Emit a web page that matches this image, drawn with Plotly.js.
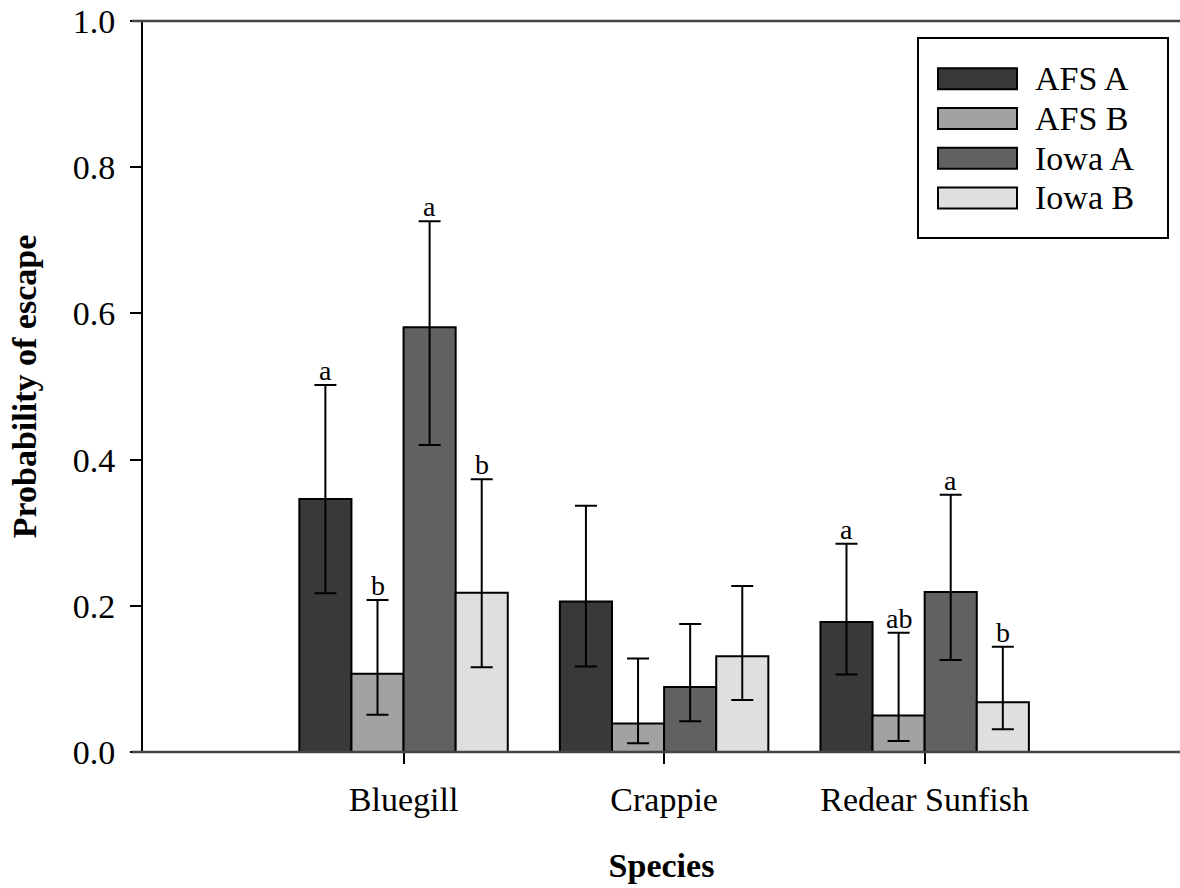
<!DOCTYPE html>
<html>
<head>
<meta charset="utf-8">
<script src="https://cdn.plot.ly/plotly-3.0.1.min.js"></script>
<style>
  html, body { margin: 0; padding: 0; background: #fff; }
  #chart { width: 1180px; height: 888px; }
</style>
</head>
<body>
<div id="chart"></div>
<script>
// Species on the x axis
const species = ['Bluegill', 'Crappie', 'Redear Sunfish'];

// Series (gear / region)
const seriesNames = ['AFS A', 'AFS B', 'Iowa A', 'Iowa B'];
const seriesColors = ['#393939', '#a2a2a2', '#616161', '#dfdfdf'];

// Estimated probability of escape and its confidence limits, per species
const afsA      = [0.346, 0.206, 0.178];
const afsAUpper = [0.502, 0.337, 0.285];
const afsALower = [0.217, 0.117, 0.106];

const afsB      = [0.107, 0.039, 0.050];
const afsBUpper = [0.208, 0.128, 0.163];
const afsBLower = [0.051, 0.012, 0.015];

const iowaA      = [0.581, 0.089, 0.219];
const iowaAUpper = [0.726, 0.175, 0.352];
const iowaALower = [0.420, 0.042, 0.126];

const iowaB      = [0.218, 0.131, 0.068];
const iowaBUpper = [0.373, 0.227, 0.144];
const iowaBLower = [0.116, 0.071, 0.031];

// Significance letters shown above the upper limits
const afsALetters  = ['a', '', 'a'];
const afsBLetters  = ['b', '', 'ab'];
const iowaALetters = ['a', '', 'a'];
const iowaBLetters = ['b', '', 'b'];

const yTickValues = [0, 0.2, 0.4, 0.6, 0.8, 1.0];

const values  = [afsA, afsB, iowaA, iowaB];
const uppers  = [afsAUpper, afsBUpper, iowaAUpper, iowaBUpper];
const lowers  = [afsALower, afsBLower, iowaALower, iowaBLower];
const letters = [afsALetters, afsBLetters, iowaALetters, iowaBLetters];

// Page geometry
const W = 1180, H = 888;
const M = { l: 143, r: 0, t: 21, b: 136 };
const pw = W - M.l - M.r, ph = H - M.t - M.b;
const fx = x => (x - M.l) / pw;        // pixel column -> paper fraction
const fy = y => (H - M.b - y) / ph;    // pixel row -> paper fraction

const serif = 'Liberation Serif, Times New Roman, serif';
const bargap = 0.2;
const nSeries = seriesNames.length;
const slot = (1 - bargap) / nSeries;

const traces = seriesNames.map((name, i) => ({
  type: 'bar',
  name: name,
  x: species,
  y: values[i],
  marker: { color: seriesColors[i], line: { color: '#000', width: 2 } },
  error_y: {
    type: 'data',
    symmetric: false,
    array: uppers[i].map((u, k) => u - values[i][k]),
    arrayminus: lowers[i].map((l, k) => values[i][k] - l),
    color: '#000',
    thickness: 2,
    width: 11
  },
  showlegend: false,
  hoverinfo: 'x+y+name'
}));

const annotations = [];
// letters over each bar's upper limit
letters.forEach((row, i) => {
  row.forEach((txt, k) => {
    if (!txt) return;
    annotations.push({
      xref: 'x', yref: 'y',
      x: k + (i - (nSeries - 1) / 2) * slot,
      y: uppers[i][k],
      text: txt,
      showarrow: false,
      xanchor: 'center', yanchor: 'bottom',
      yshift: -3,
      font: { family: serif, size: 28, color: '#000' }
    });
  });
});

const shapes = [
  // frame lines along the bottom and top
  { type: 'line', xref: 'paper', yref: 'paper', x0: fx(132), x1: 1.01, y0: 0, y1: 0,
    line: { color: '#454545', width: 2.5 } },
  { type: 'line', xref: 'paper', yref: 'paper', x0: fx(132), x1: 1.01, y0: 1, y1: 1,
    line: { color: '#454545', width: 2.5 } },
  // legend box
  { type: 'rect', xref: 'paper', yref: 'paper', x0: fx(918), x1: fx(1168), y0: fy(238), y1: fy(38),
    line: { color: '#000', width: 2 }, fillcolor: '#fff' }
];

// legend entries
seriesNames.forEach((name, i) => {
  const cy = 78.8 + 39.7 * i;
  shapes.push({
    type: 'rect', xref: 'paper', yref: 'paper',
    x0: fx(938), x1: fx(1017), y0: fy(cy + 10.5), y1: fy(cy - 10.5),
    line: { color: '#000', width: 2 }, fillcolor: seriesColors[i]
  });
  annotations.push({
    xref: 'paper', yref: 'paper', x: fx(1033), y: fy(cy),
    xanchor: 'left', yanchor: 'middle', showarrow: false,
    text: name, font: { family: serif, size: 34, color: '#000' }
  });
});

const layout = {
  width: W, height: H,
  margin: M,
  paper_bgcolor: '#fff', plot_bgcolor: '#fff',
  barmode: 'group',
  bargap: bargap,
  bargroupgap: 0,
  font: { family: serif, color: '#000' },
  xaxis: {
    type: 'category',
    range: [-1, 2.98],
    showline: false, showgrid: false, zeroline: false,
    ticks: 'outside', ticklen: 11, tickwidth: 2, tickcolor: '#000',
    tickfont: { family: serif, size: 34, color: '#000' },
    ticklabelstandoff: 6,
    title: { text: 'Species', font: { family: serif, size: 34, color: '#000', weight: 'bold' }, standoff: 36 }
  },
  yaxis: {
    range: [0, 1],
    tickvals: yTickValues,
    ticktext: yTickValues.map(v => v.toFixed(1)),
    showline: true, linecolor: '#000', linewidth: 2,
    showgrid: false, zeroline: false,
    ticks: 'outside', ticklen: 11, tickwidth: 2, tickcolor: '#000',
    tickfont: { family: serif, size: 34, color: '#000' },
    ticklabelstandoff: 8,
    title: { text: 'Probability of escape', font: { family: serif, size: 34, color: '#000', weight: 'bold' }, standoff: 26 }
  },
  shapes: shapes,
  annotations: annotations,
  showlegend: false
};

Plotly.newPlot('chart', traces, layout, { displayModeBar: false, staticPlot: true });
</script>
</body>
</html>
